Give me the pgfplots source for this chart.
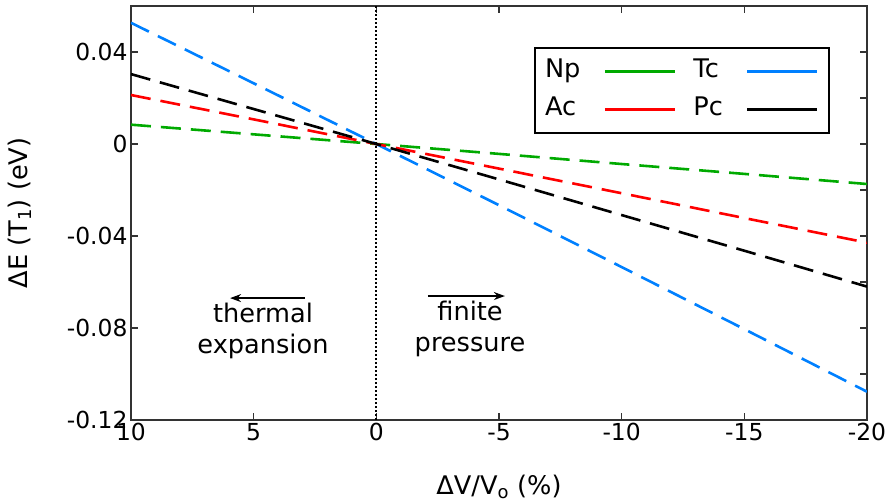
\documentclass[border=0pt]{standalone}
\usepackage{fontspec}
\setmainfont{DejaVu Sans}
\usepackage{pgfplots}
\pgfplotsset{compat=1.18}
\usetikzlibrary{arrows.meta}
\definecolor{cgreen}{RGB}{0,170,0}
\definecolor{cblue}{RGB}{0,128,255}
\definecolor{cred}{RGB}{255,0,0}
\definecolor{axgray}{RGB}{51,51,51}
\begin{document}
\begin{tikzpicture}
\begin{axis}[
  name=main,
  scale only axis, width=736bp, height=414bp,
  xmin=-20, xmax=10, x dir=reverse,
  ymin=-0.12, ymax=0.06,
  xtick={-20,-15,-10,-5,0,5,10},
  xticklabels={-20,-15,-10,-5,0,5,10},
  ytick={-0.12,-0.08,-0.04,0,0.04},
  yticklabels={-0.12,-0.08,-0.04,0,0.04},
  extra y ticks={-0.10,-0.06,-0.02,0.02},
  extra y tick labels={},
  extra y tick style={ytick pos=right},
  /pgf/number format/assume math mode=true,
  tick label style={font=\fontsize{23.5}{28}\selectfont},
  label style={font=\fontsize{25.7}{30}\selectfont},
  major tick length=7bp,
  axis line style={axgray, line width=1.7bp},
  every tick/.style={axgray, line width=1.5bp},
  xlabel={ΔV/V\textsubscript{o} (\%)},
  ylabel={ΔE (T\textsubscript{1}) (eV)},
  xlabel style={at={(axis description cs:0.5,-0.1618)}, anchor=center},
  ylabel style={at={(axis description cs:-0.1508,0.5)}, anchor=center},
  legend columns=2, legend plot pos=right,
  legend image code/.code={\draw[#1, solid, line width=3bp] (0bp,0bp) -- (70bp,0bp);},
  legend style={at={(0.9497,0.901)}, anchor=north east, draw=black, line width=2bp,
    font=\fontsize{25.7}{30}\selectfont, inner xsep=10bp, inner ysep=11bp, row sep=13bp,
    nodes={inner sep=0bp, text height=19bp, text depth=6bp},
    /tikz/every odd column/.append style={column sep=23bp},
    /tikz/every even column/.append style={column sep=17bp}},
  legend cell align=left,
]
\addplot[cgreen, line width=2.6bp, dash pattern=on 20bp off 10bp] coordinates {
  (10,0.0084) (5,0.0042) (0,0) (-5,-0.0043) (-10,-0.0087) (-15,-0.0130) (-20,-0.0174)};
\addlegendentry{Np}
\addplot[cblue, line width=2.6bp, dash pattern=on 20bp off 10bp] coordinates {
  (10,0.0527) (5,0.0264) (0,0) (-5,-0.0266) (-10,-0.0535) (-15,-0.0805) (-20,-0.1077)};
\addlegendentry{Tc}
\addplot[cred, line width=2.6bp, dash pattern=on 20bp off 10bp] coordinates {
  (10,0.0213) (5,0.0107) (0,0) (-5,-0.0107) (-10,-0.0214) (-15,-0.0322) (-20,-0.0429)};
\addlegendentry{Ac}
\addplot[black, line width=2.6bp, dash pattern=on 20bp off 10bp] coordinates {
  (10,0.0304) (5,0.0152) (0,0) (-5,-0.0154) (-10,-0.0309) (-15,-0.0464) (-20,-0.0620)};
\addlegendentry{Pc}
\addplot[black, line width=2bp, dash pattern=on 2bp off 2bp, forget plot] coordinates {(0,-0.12) (0,0.06)};
\draw[-{Stealth[length=11bp,width=8bp]}, line width=1.5bp] (axis cs:2.91,-0.067) -- (axis cs:5.96,-0.067);
\draw[-{Stealth[length=11bp,width=8bp]}, line width=1.5bp] (axis cs:-2.1,-0.0661) -- (axis cs:-5.24,-0.0661);
\node[align=center, font=\fontsize{25.7}{32}\selectfont] at (axis cs:4.62,-0.0813) {thermal\\expansion};
\node[align=center, font=\fontsize{25.7}{32}\selectfont] at (axis cs:-3.82,-0.0804) {finite\\pressure};
\end{axis}
\pgfresetboundingbox
\path ([shift={(-131bp,-81bp)}]main.south west) rectangle ([shift={(18bp,6bp)}]main.north east);
\end{tikzpicture}
\end{document}
